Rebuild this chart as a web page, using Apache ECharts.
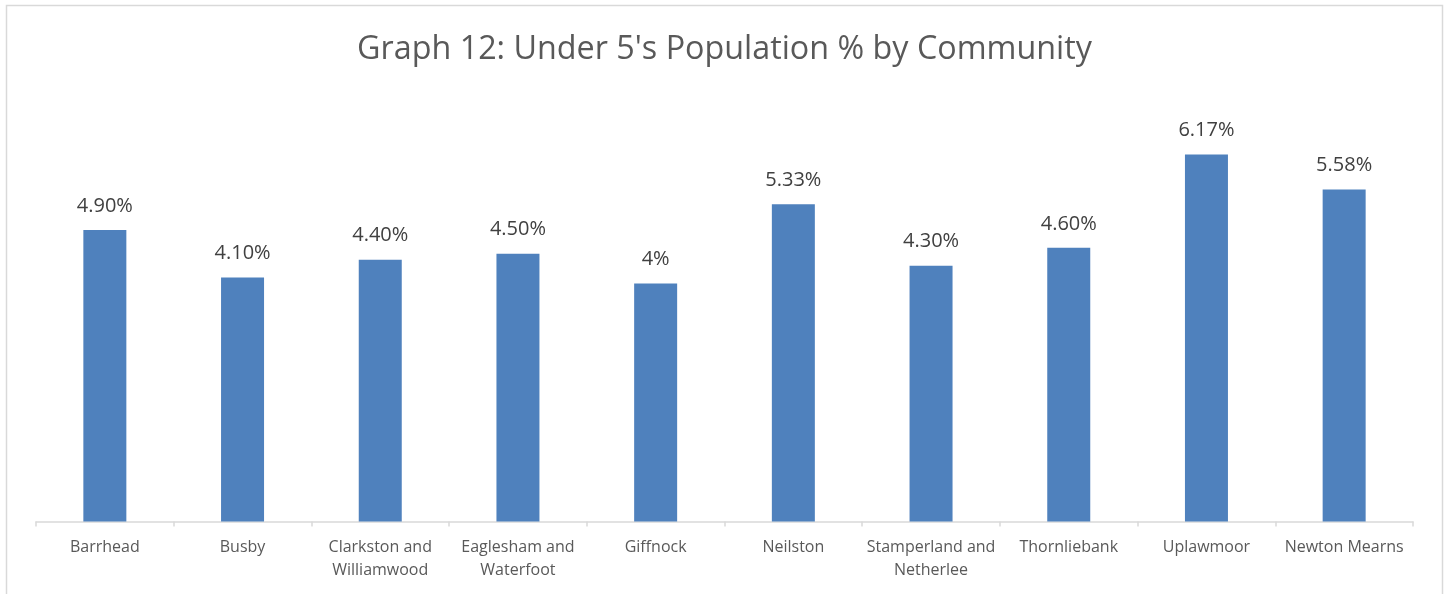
<!DOCTYPE html>
<html>
<head>
<meta charset="utf-8">
<script src="https://cdn.jsdelivr.net/npm/echarts@6/dist/echarts.min.js"></script>
<style>
  html, body { margin: 0; padding: 0; background: #ffffff; }
  #chart { width: 1449px; height: 594px; }
</style>
</head>
<body>
<div id="chart"></div>
<script>
// Under-5 population share by community
const communities = [
  'Barrhead', 'Busby', 'Clarkston and\nWilliamwood', 'Eaglesham and\nWaterfoot',
  'Giffnock', 'Neilston', 'Stamperland and\nNetherlee', 'Thornliebank',
  'Uplawmoor', 'Newton Mearns'
];
const under5Pct = [4.90, 4.10, 4.40, 4.50, 4.00, 5.33, 4.30, 4.60, 6.17, 5.58];
const valueLabels = ['4.90%', '4.10%', '4.40%', '4.50%', '4%', '5.33%', '4.30%', '4.60%', '6.17%', '5.58%'];

const chart = echarts.init(document.getElementById('chart'));
chart.setOption({
  animation: false,
  backgroundColor: '#ffffff',
  title: {
    text: "Graph 12: Under 5's Population % by Community",
    left: 'center',
    top: 29,
    textStyle: {
      fontFamily: 'Open Sans',
      fontSize: 32.3,
      fontWeight: 'normal',
      color: '#595959'
    }
  },
  graphic: [{
    type: 'rect',
    shape: { x: 6.5, y: 5.5, width: 1436, height: 600 },
    style: { fill: 'none', stroke: '#d9d9d9', lineWidth: 1.5 },
    silent: true
  }],
  grid: { left: 36, right: 36, top: 105, bottom: 72.5 },
  xAxis: {
    type: 'category',
    data: communities,
    axisLine: { lineStyle: { color: '#d9d9d9', width: 1.5 } },
    axisTick: { show: true, length: 5, lineStyle: { color: '#d9d9d9', width: 1.5 } },
    axisLabel: {
      interval: 0,
      margin: 14,
      fontFamily: 'Open Sans',
      fontSize: 16,
      lineHeight: 23,
      color: '#595959'
    }
  },
  yAxis: {
    type: 'value',
    min: 0,
    max: 7,
    show: false,
    splitLine: { show: false }
  },
  series: [{
    type: 'bar',
    data: under5Pct,
    barWidth: 43,
    itemStyle: { color: '#4f81bd' },
    label: {
      show: true,
      position: 'top',
      distance: 14,
      fontFamily: 'Open Sans',
      fontSize: 20,
      color: '#404040',
      formatter: p => valueLabels[p.dataIndex]
    }
  }]
});
</script>
</body>
</html>
